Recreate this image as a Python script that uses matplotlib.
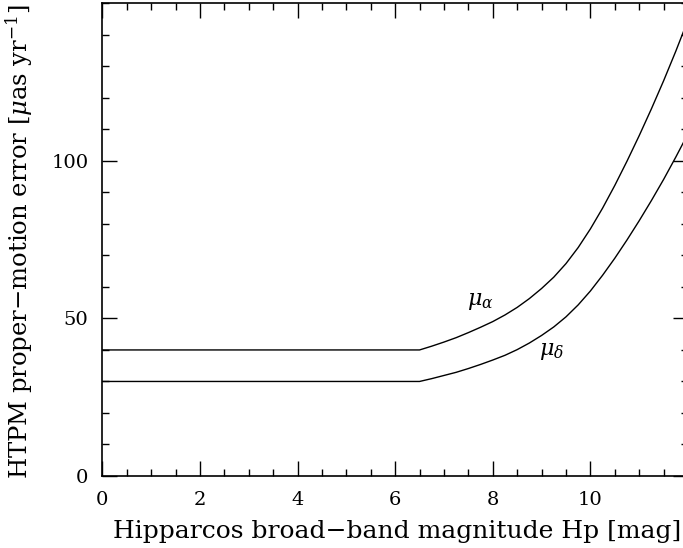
"""HTPM proper-motion error vs Hipparcos magnitude, redrawn from the reference figure."""
import matplotlib; matplotlib.use("Agg"); import matplotlib.pyplot as plt
from matplotlib.ticker import MultipleLocator

# values
HP = [0, 6.5, 6.75, 7.0, 7.25, 7.5, 7.75, 8.0, 8.25, 8.5, 8.75, 9.0, 9.25, 9.5,
      9.75, 10.0, 10.25, 10.5, 10.75, 11.0, 11.25, 11.5, 11.75, 12.0]
MU_A = [40, 40, 41.2, 42.5, 43.9, 45.5, 47.2, 49.0, 51.1, 53.5, 56.3, 59.5, 63.1, 67.4,
        72.5, 78.4, 85.0, 92.2, 99.9, 108.0, 116.5, 125.4, 134.8, 144.7]
MU_D = [30, 30, 30.9, 31.9, 32.9, 34.1, 35.4, 36.8, 38.3, 40.1, 42.2, 44.6, 47.3, 50.5,
        54.3, 58.7, 63.7, 69.1, 74.9, 81.0, 87.4, 94.1, 101.2, 108.6]
X_TICKS = [0, 2, 4, 6, 8, 10]
Y_TICKS = [0, 50, 100]

plt.rcParams["font.family"] = ["DejaVu Serif"]
plt.rcParams["mathtext.fontset"] = "dejavuserif"

W, H = 683, 548
fig = plt.figure(figsize=(W/100, H/100), dpi=100)
ax = fig.add_axes([102.3/W, 72/H, (688-102.3)/W, (476-3.3)/H])

ax.plot(HP, MU_A, color="black", lw=1.0)
ax.plot(HP, MU_D, color="black", lw=1.0)
ax.text(7.75, 55.5, r"$\mu_\alpha$", fontsize=16, ha="center", va="center")
ax.text(9.2, 39.8, r"$\mu_\delta$", fontsize=16, ha="center", va="center")

ax.set_xlim(0, 12); ax.set_ylim(0, 150)
ax.set_xticks(X_TICKS); ax.set_yticks(Y_TICKS)
ax.xaxis.set_minor_locator(MultipleLocator(0.5))
ax.yaxis.set_minor_locator(MultipleLocator(10))
ax.tick_params(which="both", direction="in", top=True, right=True, width=1.0, labelsize=14)
ax.tick_params(which="major", length=11)
ax.tick_params(which="minor", length=5)
ax.tick_params(axis="x", pad=11); ax.tick_params(axis="y", pad=10)
for s in ax.spines.values():
    s.set_linewidth(1.2)

fig.text((113+682)/2/W, 10/H, "Hipparcos broad\u2212band magnitude Hp [mag]",
         fontsize=18, ha="center", va="baseline")
fig.text(35/W, 1-241.5/H, r"HTPM proper$-$motion error [$\mu$as yr$^{-1}$]",
         fontsize=17.5, rotation=90, ha="right", va="center")

fig.savefig("out.png", dpi=100, facecolor="white")
